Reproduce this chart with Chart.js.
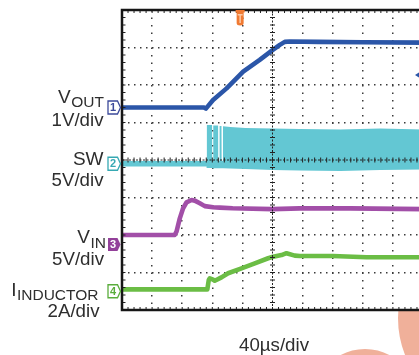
<!DOCTYPE html>
<html lang="en">
<head>
<meta charset="UTF-8">
<title>Start-up waveforms</title>
<script src="https://cdn.jsdelivr.net/npm/chart.js"></script>
<style>
  html, body { margin: 0; padding: 0; background: #fff; overflow: hidden; }
  #scope { display: block; }
</style>
</head>
<body>
<canvas id="scope" width="426" height="355"></canvas>
<script>
// horizontal: 40 us/div, 10 divisions, trigger reference in the middle
const timeMin = -200, timeMax = 200, timePerDiv = 40;

// channel ground positions (divisions from centre) and units per division
const chPosition = [1.4, -0.1, -2.25, -3.5];
const chPerDiv = [1, 5, 5, 2];

// CH1 output voltage (V)
const voutTime  = [-200, -91, -88.5, -86, -79, -61, -39, -17, 0, 9.7, 16.3, 23, 60, 120, 200];
const voutVolts = [0, 0, -0.03, 0.03, 0.2, 0.51, 0.955, 1.27, 1.53, 1.67, 1.75, 1.76, 1.75, 1.74, 1.73];

// CH2 switch node (V): upper and lower envelope of the switching
const swTime = [-200, -87.6, -87.2, -80.3, -80.1, -78.9, -78.7, -72.3, -72.1, -70.5, -70.3,
                -67.8, -67.6, -66.0, -65.8, -56, -36, 0, 36, 90, 143, 200];
const swHigh = [0.37, 0.37, 5.17, 5.17, 0.4, 0.4, 5.1, 5.1, 0.4, 0.4, 5.05,
                5.05, 0.4, 0.4, 5.0, 4.9, 4.77, 4.7, 4.63, 4.57, 4.7, 4.57];
const swLow  = [-0.37, -0.37, -0.57, -0.57, -0.6, -0.6, -0.6, -0.6, -0.6, -0.6, -0.6,
                -0.6, -0.6, -0.6, -0.6, -0.62, -0.7, -0.83, -0.9, -0.97, -0.83, -0.77];

// CH3 input voltage (V)
const vinTime  = [-200, -130, -127.6, -123.2, -118.8, -114.3, -107.6, -103.3, -96.6, -90, -79, -70, -53, 0, 36, 103, 200];
const vinVolts = [1.25, 1.25, 1.69, 3.47, 4.81, 5.61, 5.92, 5.83, 5.48, 5.1, 4.95, 4.9, 4.81, 4.7, 4.8, 4.8, 4.7];

// CH4 inductor current (A)
const ilTime = [-200, -86.6, -84.7, -83.3, -78.9, -76.7, -67.8, -59, -41.2, -23.5, -5.8, 0.8, 12, 18.6, 29.6, 36.3, 80, 125, 200];
const ilAmps = [0.1, 0.1, 0.6, 0.69, 0.62, 0.56, 0.74, 0.96, 1.22, 1.49, 1.76, 1.84, 1.93, 2.03, 1.9, 1.88, 1.88, 1.81, 1.81];

// trigger: CH1 rising edge
const trigTime = -43, trigLevel = 0.87;

const chNames = ['V', 'SW', 'V', 'I'];
const chSubs = ['OUT', '', 'IN', 'INDUCTOR'];
const chScales = ['1V/div', '5V/div', '5V/div', '2A/div'];
const timeLabel = '40\u00b5s/div';

const chColors = ['#2b56a8', '#63c7d3', '#a24fa8', '#6bbd45'];
const markColors = ['#3c4a9a', '#36a9b3', '#93409a', '#5aad3c'];

function toDivs(times, values, ch) {
  return times.map((t, i) => ({ x: t, y: chPosition[ch] + values[i] / chPerDiv[ch] }));
}

function trace(label, data, color) {
  return { label, data, borderColor: color, borderWidth: 4.6, pointRadius: 0, fill: false,
           borderJoinStyle: 'round', borderCapStyle: 'round', tension: 0 };
}

const FONT = '"Liberation Sans", Arial, sans-serif';

const scopeOverlay = {
  id: 'scopeOverlay',
  beforeDraw(chart) {
    const ctx = chart.ctx;
    const a = chart.chartArea;
    ctx.save();
    // faint logo rings behind the screen
    ctx.strokeStyle = '#f0b09a';
    ctx.lineWidth = 24;
    ctx.beginPath(); ctx.arc(499, 318, 89, 0, Math.PI * 2); ctx.stroke();
    ctx.lineWidth = 20;
    ctx.beginPath(); ctx.arc(365, 400, 41, 0, Math.PI * 2); ctx.stroke();
    ctx.fillStyle = '#fff';
    ctx.fillRect(a.left, a.top, a.right - a.left, a.bottom - a.top);
    ctx.restore();
  },
  afterDraw(chart) {
    const ctx = chart.ctx;
    const { left, right, top, bottom } = chart.chartArea;
    const xs = chart.scales.x, ys = chart.scales.y;
    const w = right - left, h = bottom - top;
    const x0 = xs.getPixelForValue(0), y0 = ys.getPixelForValue(0);
    ctx.save();

    // centre cross
    ctx.strokeStyle = '#222';
    ctx.lineWidth = 1;
    ctx.setLineDash([2, 1.5]);
    ctx.beginPath();
    ctx.moveTo(x0, top); ctx.lineTo(x0, bottom);
    ctx.moveTo(left, y0); ctx.lineTo(right, y0);
    ctx.stroke();
    ctx.setLineDash([]);
    ctx.beginPath();
    for (let k = 1; k < 40; k++) {
      const y = top + k * h / 40;
      ctx.moveTo(x0 - 2.5, y); ctx.lineTo(x0 + 2.5, y);
      ctx.moveTo(left, y); ctx.lineTo(left + 3.5, y);
      ctx.moveTo(right, y); ctx.lineTo(right - 3.5, y);
    }
    for (let k = 1; k < 50; k++) {
      const x = left + k * w / 50;
      ctx.moveTo(x, y0 - 2.5); ctx.lineTo(x, y0 + 2.5);
      ctx.moveTo(x, top); ctx.lineTo(x, top + 3);
      ctx.moveTo(x, bottom); ctx.lineTo(x, bottom - 3);
    }
    ctx.stroke();

    // screen frame
    ctx.strokeStyle = '#161616';
    ctx.lineWidth = 2.5;
    ctx.strokeRect(left, top, w, h);

    // channel ground markers
    for (let i = 0; i < 4; i++) {
      const y = ys.getPixelForValue(chPosition[i]);
      const x1 = left - 14, x2 = left - 4.5, x3 = left - 1.5;
      ctx.beginPath();
      ctx.moveTo(x1, y - 6.5); ctx.lineTo(x2, y - 6.5); ctx.lineTo(x3, y);
      ctx.lineTo(x2, y + 6.5); ctx.lineTo(x1, y + 6.5); ctx.closePath();
      if (i === 2) {
        ctx.fillStyle = markColors[i]; ctx.fill();
      } else {
        ctx.fillStyle = '#fff'; ctx.fill();
        ctx.strokeStyle = markColors[i]; ctx.lineWidth = 1.3; ctx.stroke();
      }
      ctx.fillStyle = i === 2 ? '#fff' : markColors[i];
      ctx.font = 'bold 11px ' + FONT;
      ctx.textAlign = 'center'; ctx.textBaseline = 'middle';
      ctx.fillText(String(i + 1), left - 9, y + 0.5);
    }

    // trigger position tab
    const tx = xs.getPixelForValue(trigTime);
    ctx.fillStyle = '#f07a32';
    ctx.fillRect(tx - 4.5, top, 9, 2.5);
    ctx.beginPath();
    ctx.moveTo(tx - 3.5, top + 2); ctx.lineTo(tx + 3.5, top + 2);
    ctx.lineTo(tx + 3.5, top + 13); ctx.quadraticCurveTo(tx + 3.5, top + 15.5, tx, top + 15.5);
    ctx.quadraticCurveTo(tx - 3.5, top + 15.5, tx - 3.5, top + 13); ctx.closePath();
    ctx.fill();
    ctx.fillStyle = '#fbc9a6';
    ctx.fillRect(tx - 2.5, top + 4, 5, 1.5);
    ctx.fillRect(tx - 0.75, top + 4, 1.5, 9);

    // trigger level arrow on the right edge
    const ty = ys.getPixelForValue(chPosition[0] + trigLevel / chPerDiv[0]);
    ctx.fillStyle = chColors[0];
    ctx.beginPath();
    ctx.moveTo(right - 8, ty); ctx.lineTo(right - 1, ty - 4.5); ctx.lineTo(right - 1, ty + 4.5);
    ctx.closePath(); ctx.fill();

    // channel captions
    const nameBase = [103, 165, 243, 296];
    const subBase = [107, 165, 247.5, 299.5];
    const nameRight = [104, 103.5, 106, 98.5];
    const scaleBase = [125.5, 186, 264.5, 316.5];
    const scaleRight = [103.5, 103.5, 104, 99.5];
    ctx.fillStyle = '#2e2e2e';
    ctx.textBaseline = 'alphabetic';
    ctx.textAlign = 'right';
    for (let i = 0; i < 4; i++) {
      let r = nameRight[i];
      if (chSubs[i]) {
        ctx.font = '15.5px ' + FONT;
        ctx.fillText(chSubs[i], r, subBase[i]);
        r -= ctx.measureText(chSubs[i]).width + 0.5;
      }
      ctx.font = '19px ' + FONT;
      ctx.fillText(chNames[i], r, nameBase[i]);
      ctx.font = '18.7px ' + FONT;
      ctx.fillText(chScales[i], scaleRight[i], scaleBase[i]);
    }
    ctx.textAlign = 'center';
    ctx.font = '18.7px ' + FONT;
    ctx.fillText(timeLabel, x0 + 1.5, 350.5);
    ctx.restore();
  }
};

function gridColor(ctx) {
  const v = ctx.tick.value;
  const s = ctx.scale;
  if (v === 0 || v <= s.min || v >= s.max) return 'rgba(0,0,0,0)';
  return '#3a3a3a';
}

new Chart(document.getElementById('scope'), {
  type: 'line',
  data: {
    datasets: [
      trace('VOUT', toDivs(voutTime, voutVolts, 0), chColors[0]),
      trace('VIN', toDivs(vinTime, vinVolts, 2), chColors[2]),
      trace('IINDUCTOR', toDivs(ilTime, ilAmps, 3), chColors[3]),
      { label: 'SW', data: toDivs(swTime, swHigh, 1), borderColor: 'rgba(0,0,0,0)', borderWidth: 1,
        backgroundColor: chColors[1], fill: '+1', pointRadius: 0, tension: 0 },
      { label: 'SW low', data: toDivs(swTime, swLow, 1), borderColor: 'rgba(0,0,0,0)', borderWidth: 1,
        fill: false, pointRadius: 0, tension: 0 }
    ]
  },
  options: {
    responsive: false,
    animation: false,
    devicePixelRatio: 1,
    layout: { padding: { left: 122, top: 10, right: 3, bottom: 45 } },
    plugins: { legend: { display: false }, tooltip: { enabled: false } },
    scales: {
      x: {
        type: 'linear', min: timeMin, max: timeMax, z: 1,
        ticks: { display: false, stepSize: timePerDiv },
        grid: { drawTicks: false, color: gridColor, lineWidth: 1.5 },
        border: { display: false, dash: [1.5, 6] }
      },
      y: {
        type: 'linear', min: -4, max: 4, z: 1,
        ticks: { display: false, stepSize: 1 },
        grid: { drawTicks: false, color: gridColor, lineWidth: 1.5 },
        border: { display: false, dash: [1.5, 4.5] }
      }
    }
  },
  plugins: [scopeOverlay]
});
</script>
</body>
</html>
